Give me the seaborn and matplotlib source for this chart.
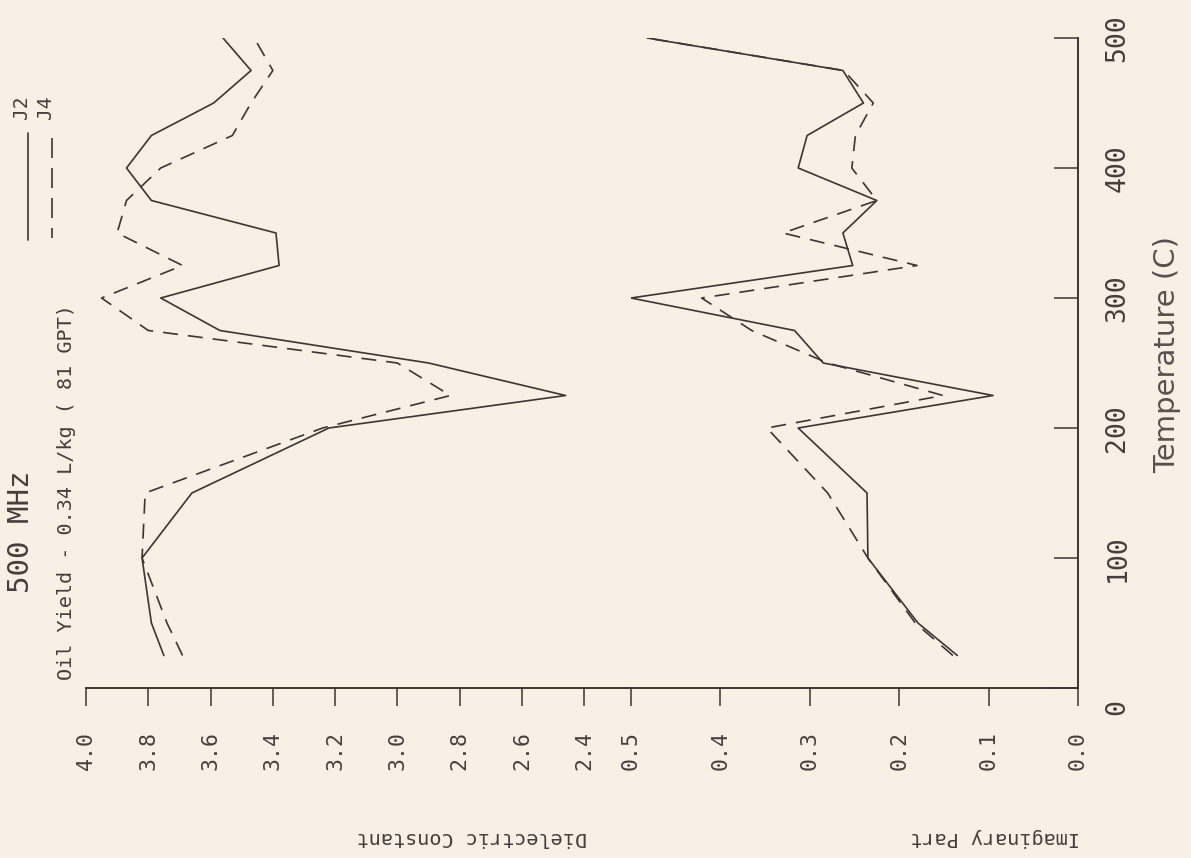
import matplotlib
matplotlib.use("Agg")
import matplotlib.pyplot as plt
import pandas as pd
import seaborn as sns
from matplotlib.lines import Line2D

# temperature steps (C), shared by both samples
temps = [25, 50, 100, 150, 200, 225, 250, 275, 300, 325, 350, 375, 400, 425, 450, 475, 500]

# dielectric constant
j2_dielectric = [3.75, 3.79, 3.82, 3.66, 3.22, 2.46, 2.90, 3.57, 3.76, 3.38, 3.39, 3.79, 3.87, 3.79, 3.59, 3.47, 3.56]
j4_dielectric = [3.69, 3.74, 3.82, 3.81, 3.24, 2.83, 3.00, 3.80, 3.95, 3.69, 3.90, 3.87, 3.76, 3.53, 3.47, 3.40, 3.46]

# imaginary part
j2_imag = [0.135, 0.179, 0.235, 0.236, 0.313, 0.095, 0.285, 0.317, 0.500, 0.252, 0.263, 0.225, 0.313, 0.303, 0.240, 0.263, 0.482]
j4_imag = [0.140, 0.182, 0.235, 0.280, 0.348, 0.151, 0.280, 0.365, 0.421, 0.180, 0.330, 0.225, 0.253, 0.249, 0.229, 0.262, 0.482]

dielectric_ticks = [4.0, 3.8, 3.6, 3.4, 3.2, 3.0, 2.8, 2.6, 2.4]
imag_ticks = [0.5, 0.4, 0.3, 0.2, 0.1, 0.0]
temp_ticks = [0, 100, 200, 300, 400, 500]

W, H = 1191, 858
INK = "#3d3535"
TXT = "#463e3e"
PAPER = "#f8f0e5"

sns.set_theme(style="white")
plt.rcParams['font.family'] = ['DejaVu Sans Mono', 'DejaVu Sans']


def fx(px):
    return px / W


def fy(py):
    return 1 - py / H


fig = plt.figure(figsize=(W / 100, H / 100), dpi=100, facecolor=PAPER)
ax_d = fig.add_axes([fx(86), fy(688), fx(631) - fx(86), fy(38) - fy(688)])
ax_i = fig.add_axes([fx(631), fy(688), fx(1078) - fx(631), fy(38) - fy(688)], sharey=ax_d)

n = len(temps)
df_d = pd.DataFrame({"temp": temps * 2, "value": j2_dielectric + j4_dielectric,
                     "sample": ["J2"] * n + ["J4"] * n})
df_i = pd.DataFrame({"temp": temps * 2, "value": j2_imag + j4_imag,
                     "sample": ["J2"] * n + ["J4"] * n})

dash_map = {"J2": "", "J4": (9, 6)}
for ax, df in [(ax_d, df_d), (ax_i, df_i)]:
    sns.lineplot(data=df, x="value", y="temp", style="sample", dashes=dash_map,
                 color=INK, lw=1.2, sort=False, estimator=None, legend=False, ax=ax)
    ax.set_facecolor("none")
    ax.set_xlabel("")
    ax.set_ylabel("")
    for s in ax.spines.values():
        s.set_color(INK)
        s.set_linewidth(1.4)

ax_d.set_xlim(4.0, 2.25)
ax_d.set_ylim(0, 500)
ax_d.set_xticks(dielectric_ticks, [f"{v:.1f}" for v in dielectric_ticks])
ax_i.set_xlim(0.5, 0.0)
ax_i.set_xticks(imag_ticks, [f"{v:.1f}" for v in imag_ticks])

sns.despine(ax=ax_d, left=True)
sns.despine(ax=ax_i, left=True, right=False)

for ax in (ax_d, ax_i):
    ax.tick_params(axis="x", direction="out", length=13, width=1.1, pad=18,
                   labelrotation=90, labelsize=15.5, colors=INK, labelcolor=TXT, bottom=True)
ax_d.tick_params(axis="y", left=False, labelleft=False)

ax_i.yaxis.tick_right()
ax_i.set_yticks(temp_ticks, ["" if t == 0 else str(t) for t in temp_ticks])
ax_i.tick_params(axis="y", direction="in", length=17, width=1.1, pad=19,
                 labelrotation=90, labelsize=19, colors=INK, labelcolor=TXT,
                 right=True, labelright=True, left=False, labelleft=False)
plt.setp(ax_i.get_yticklabels(), va="center")
ax_i.annotate("0", xy=(1, 0), xycoords=("axes fraction", "data"), xytext=(19, -13.7),
              textcoords="offset points", rotation=90, ha="left", va="center",
              fontsize=19, color=TXT)

# titles and axis texts, as placed on the scanned sheet
fig.text(fx(21), fy(593), "500 MHz", rotation=90, ha="center", va="bottom",
         fontsize=21, color=TXT)
fig.text(fx(67), fy(680), "Oil Yield - 0.34 L/kg ( 81 GPT)", rotation=90,
         ha="center", va="bottom", fontsize=14.5, color=TXT)
fig.text(fx(587), fy(837), "Dielectric Constant", rotation=180, ha="right",
         va="center", fontsize=14.5, color=TXT)
fig.text(fx(1080), fy(837), "Imaginary Part", rotation=180, ha="right",
         va="center", fontsize=14.5, color=TXT)
fig.text(fx(1167), fy(355), "Temperature (C)", rotation=90, ha="center",
         va="center", fontsize=21, color="#5a5050", family="DejaVu Sans")

# hand-drawn legend keys
fig.text(fx(22), fy(107), "J2", rotation=90, ha="center", va="center", fontsize=14, color=TXT)
fig.text(fx(45), fy(107), "J4", rotation=90, ha="center", va="center", fontsize=14, color=TXT)
fig.add_artist(Line2D([fx(28), fx(28)], [fy(133), fy(240)], transform=fig.transFigure,
                      color=INK, lw=1.2))
fig.add_artist(Line2D([fx(52), fx(52)], [fy(138), fy(238)], transform=fig.transFigure,
                      color=INK, lw=1.2, dashes=(12, 6)))

fig.savefig("out.png", dpi=100, facecolor=PAPER)
